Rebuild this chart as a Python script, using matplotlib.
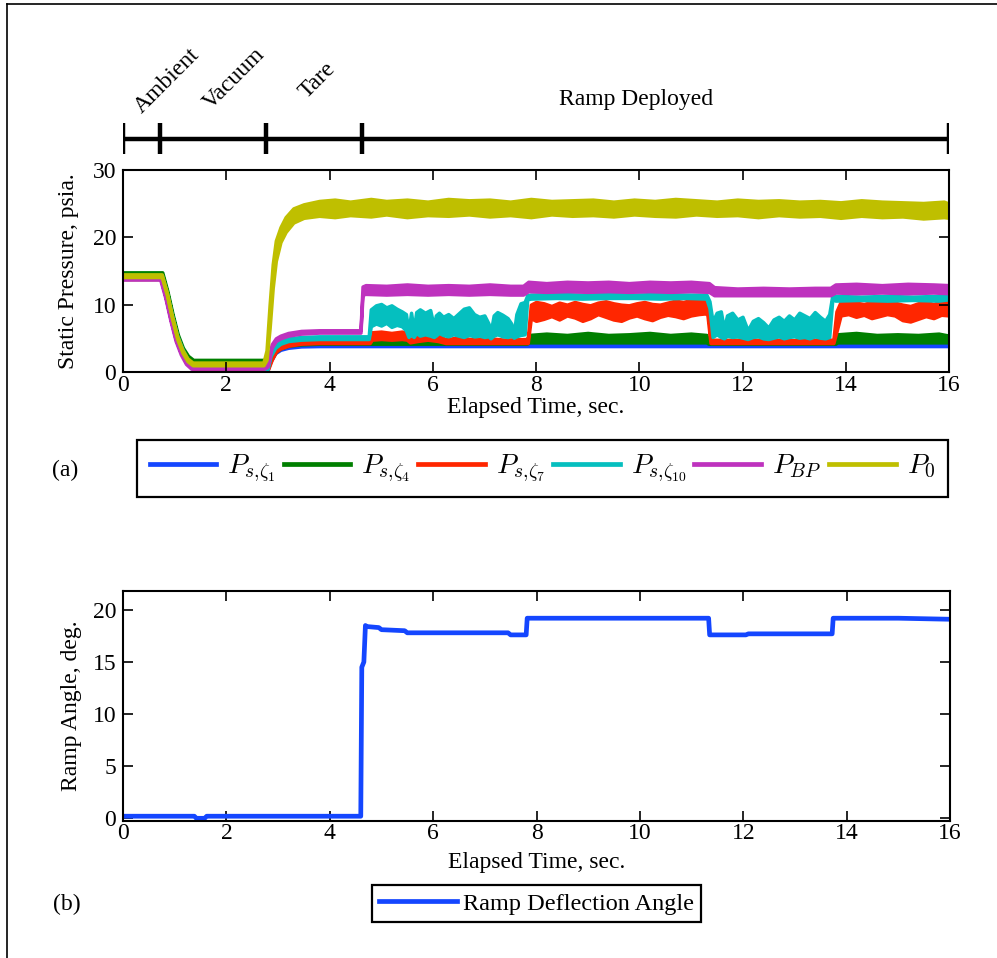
import matplotlib
matplotlib.use('Agg')
import matplotlib.pyplot as plt
from matplotlib.lines import Line2D

plt.rcParams['font.family'] = ['Liberation Serif', 'DejaVu Serif']
plt.rcParams['mathtext.fontset'] = 'cm'

# -----------------
# Data
# -----------------

# test phases along the top
phase_edges = [0, 0.72, 2.77, 4.62, 16]
phase_names = ['Ambient', 'Vacuum', 'Tare', 'Ramp Deployed']

# P_s,zeta1 (blue)
blue_t = [0, 0.74, 0.84, 0.94, 1.04, 1.14, 1.24, 1.34, 2.74, 2.79, 2.86, 2.95, 3.05, 3.2, 3.45, 3.8, 16]
blue_lo = [13.8, 13.8, 11.0, 7.6, 4.6, 2.6, 1.2, 0.5, 0.5, 0.05, 1.6, 2.8, 3.3, 3.6, 3.8, 3.85, 3.85]
blue_hi = [14.1, 14.1, 11.3, 7.9, 4.9, 2.9, 1.5, 0.8, 0.8, 0.3, 1.9, 3.1, 3.6, 3.9, 4.05, 4.1, 4.1]

# P_s,zeta4 (green)
green_t = [0, 0.76, 0.86, 0.96, 1.06, 1.16, 1.26, 1.36, 2.74, 2.8, 2.88, 2.96, 3.05, 3.2, 3.45, 3.8,
           4.7, 5.2, 5.8, 6.5, 7.2, 7.82,
           7.86, 8.2, 8.6, 9.0, 9.4, 9.8, 10.2, 10.6, 11.0, 11.3,
           11.34, 12.0, 12.8, 13.5, 13.8,
           13.84, 14.2, 14.6, 15.0, 15.4, 15.8, 16]
green_lo = [14.4, 14.4, 11.6, 8.2, 5.2, 3.2, 2.0, 1.4, 1.4, 0.8, 2.0, 3.0, 3.5, 3.9, 4.1, 4.2,
            4.2, 4.2, 4.2, 4.2, 4.2, 4.2,
            4.4, 4.4, 4.4, 4.4, 4.4, 4.4, 4.4, 4.4, 4.4, 4.4,
            4.2, 4.2, 4.2, 4.2, 4.2,
            4.4, 4.4, 4.4, 4.4, 4.4, 4.4, 4.4]
green_hi = [14.8, 14.8, 12.0, 8.6, 5.6, 3.6, 2.4, 1.8, 1.8, 1.2, 2.5, 3.5, 4.0, 4.4, 4.6, 4.65,
            4.8, 4.9, 4.7, 4.9, 4.7, 4.8,
            5.5, 5.7, 5.5, 5.8, 5.5, 5.6, 5.8, 5.5, 5.7, 5.5,
            4.7, 4.8, 4.7, 4.8, 4.7,
            5.6, 5.8, 5.5, 5.6, 5.5, 5.7, 5.4]

# P_s,zeta7 (red)
red_t = [0, 0.75, 0.85, 0.95, 1.05, 1.15, 1.25, 1.35, 2.74, 2.8, 2.88, 2.96, 3.05, 3.2, 3.45, 3.8,
         4.78, 4.82, 5.0, 5.2, 5.4, 5.5, 5.56, 5.7, 5.9, 6.1, 6.25, 6.5, 6.8, 7.1, 7.4, 7.84,
         7.9, 8.0, 8.15, 8.3, 8.45, 8.6, 8.75, 8.9, 9.05, 9.2, 9.35, 9.5, 9.65, 9.8, 9.95,
         10.1, 10.25, 10.4, 10.55, 10.7, 10.85, 11.0, 11.15, 11.28,
         11.32, 11.38, 12.0, 12.6, 13.1, 13.16, 13.22, 13.76,
         13.82, 13.9, 14.05, 14.2, 14.35, 14.5, 14.65, 14.8, 14.95, 15.1, 15.25, 15.4, 15.55, 15.7, 15.85, 16]
red_lo = [13.8, 13.8, 11.2, 7.8, 4.8, 2.8, 1.3, 0.5, 0.5, 0.2, 1.8, 3.0, 3.5, 3.9, 4.2, 4.3,
          4.3, 4.8, 4.9, 4.8, 4.9, 4.8, 4.4, 4.6, 4.8, 4.6, 4.3, 4.3, 4.3, 4.3, 4.3, 4.3,
          8.0, 7.6, 7.9, 8.3, 7.8, 8.4, 8.1, 7.6, 8.0, 8.6, 8.2, 7.8, 7.6, 8.1, 8.4,
          8.0, 7.7, 8.2, 8.5, 8.3, 8.0, 8.4, 8.6, 8.7,
          8.5, 4.3, 4.3, 4.3, 4.3, 4.3, 4.3, 4.3,
          6.0, 8.4, 8.6, 8.2, 8.5, 8.0, 8.3, 8.6, 8.4, 7.7, 7.5, 7.9, 8.3, 8.0, 8.5, 8.4]
red_hi = [14.2, 14.2, 11.6, 8.2, 5.2, 3.2, 1.7, 0.9, 0.9, 0.6, 2.2, 3.4, 3.9, 4.3, 4.6, 4.7,
          4.7, 5.9, 6.0, 5.8, 6.0, 5.9, 4.8, 5.6, 5.9, 5.7, 4.8, 5.2, 4.8, 5.0, 4.8, 4.9,
          10.0, 10.4, 10.2, 9.8, 10.3, 10.0, 10.4, 10.1, 9.9, 10.3, 10.5, 10.2, 10.0, 9.9, 10.2,
          10.4, 10.1, 10.0, 10.3, 10.6, 10.4, 10.7, 10.8, 10.7,
          10.5, 4.8, 4.7, 4.8, 4.7, 5.8, 4.7, 4.8,
          9.0, 10.4, 10.6, 10.3, 10.1, 10.4, 10.5, 10.2, 10.3, 10.0, 9.8, 10.2, 10.4, 10.1, 10.5, 10.4]

# P_s,zeta10 (cyan)
cyan_t = [0, 0.75, 0.85, 0.95, 1.05, 1.15, 1.25, 1.35, 2.74, 2.79, 2.86, 2.95, 3.05, 3.2, 3.45, 3.8, 4.7,
          4.76, 4.8, 4.9, 5.0, 5.1, 5.2, 5.3, 5.4, 5.48, 5.53, 5.58, 5.63, 5.68, 5.75, 5.85, 5.95,
          6.02, 6.06, 6.12, 6.2, 6.3, 6.4, 6.5, 6.6, 6.7, 6.8, 6.9, 7.0, 7.08, 7.12, 7.18, 7.25,
          7.35, 7.45, 7.52, 7.57, 7.62, 7.7, 7.78, 7.83,
          7.9, 8.4, 8.9, 9.4, 9.9, 10.4, 10.9, 11.3,
          11.36, 11.42, 11.5, 11.58, 11.64, 11.7, 11.8, 11.9, 12.0, 12.1, 12.2, 12.3, 12.4, 12.5,
          12.6, 12.7, 12.8, 12.9, 13.0, 13.1, 13.2, 13.3, 13.4, 13.5, 13.6, 13.68, 13.74,
          13.8, 14.3, 14.8, 15.3, 15.8, 16]
cyan_lo = [14.0, 14.0, 11.4, 8.0, 5.0, 3.0, 1.5, 0.7, 0.7, 0.1, 2.4, 3.6, 4.2, 4.6, 4.8, 4.9, 4.9,
           4.9, 6.8, 7.2, 6.9, 7.3, 6.7, 7.0, 6.8, 6.2, 5.2, 5.6, 5.2, 5.8, 5.4, 5.6, 5.4,
           5.2, 5.4, 5.8, 5.5, 5.3, 5.6, 5.4, 5.2, 5.5, 5.3, 5.4, 5.2, 5.3, 5.0, 5.4, 5.6,
           5.3, 5.2, 5.4, 5.1, 5.3, 5.5, 5.6, 10.8,
           10.9, 11.0, 10.9, 11.0, 11.0, 10.9, 11.0, 10.9,
           9.5, 5.2, 5.6, 5.2, 5.0, 5.4, 5.2, 5.3, 5.1, 4.9, 5.2, 5.3, 5.0, 4.9,
           5.1, 5.3, 5.0, 5.2, 5.3, 5.1, 5.2, 5.0, 5.3, 5.1, 5.0, 5.2, 10.8,
           10.6, 10.7, 10.6, 10.7, 10.6, 10.8]
cyan_hi = [14.4, 14.4, 11.8, 8.4, 5.4, 3.4, 1.9, 1.1, 1.1, 0.5, 2.8, 4.0, 4.6, 5.0, 5.2, 5.3, 5.3,
           5.3, 9.3, 9.9, 10.1, 9.6, 9.9, 9.4, 9.0, 8.6, 6.0, 8.8, 6.2, 8.9, 9.3, 8.8, 9.2,
           6.8, 8.4, 8.8, 8.2, 8.6, 8.0, 8.7, 9.4, 9.6, 8.6, 8.2, 8.4, 7.2, 5.8, 8.4, 8.9,
           8.5, 8.0, 7.2, 5.8, 8.6, 10.2, 10.4, 11.4,
           11.5, 11.6, 11.5, 11.6, 11.5, 11.6, 11.5, 11.5,
           10.5, 7.5, 8.8, 9.0, 6.4, 8.4, 8.8, 7.8, 8.2, 6.2, 7.6, 8.0, 7.4, 6.6,
           7.8, 8.2, 7.6, 8.4, 7.8, 8.8, 8.4, 8.0, 8.9, 8.2, 7.6, 8.6, 11.4,
           11.3, 11.2, 11.3, 11.2, 11.3, 11.4]

# P_BP (magenta)
mag_t = [0, 0.72, 0.82, 0.92, 1.02, 1.12, 1.22, 1.32, 2.74, 2.8, 2.88, 2.96, 3.05, 3.2, 3.45, 3.8, 4.6,
         4.64, 4.7, 5.1, 5.5, 5.9, 6.3, 6.7, 7.1, 7.5, 7.75,
         7.85, 8.2, 8.6, 9.0, 9.4, 9.8, 10.2, 10.6, 11.0, 11.35,
         11.45, 11.9, 12.4, 12.9, 13.4, 13.7,
         13.8, 14.2, 14.7, 15.2, 15.7, 16]
mag_lo = [13.75, 13.75, 11.0, 7.6, 4.6, 2.6, 1.2, 0.5, 0.5, 0.8, 3.6, 4.6, 5.0, 5.4, 5.7, 5.85, 5.85,
          11.5, 11.6, 11.5, 11.6, 11.5, 11.6, 11.5, 11.6, 11.5, 11.5,
          12.0, 11.9, 12.0, 11.9, 12.0, 11.9, 12.0, 11.9, 12.0, 11.9,
          11.4, 11.4, 11.4, 11.4, 11.4, 11.4,
          11.8, 11.7, 11.8, 11.7, 11.8, 11.7]
mag_hi = [14.05, 14.05, 11.3, 7.9, 4.9, 2.9, 1.5, 0.8, 0.8, 1.2, 4.1, 5.0, 5.4, 5.8, 6.1, 6.2, 6.2,
          12.7, 12.9, 12.8, 13.0, 12.8, 12.9, 12.8, 13.0, 12.8, 12.8,
          13.4, 13.2, 13.4, 13.3, 13.4, 13.2, 13.4, 13.3, 13.4, 13.2,
          12.6, 12.4, 12.5, 12.4, 12.5, 12.5,
          13.0, 13.1, 12.9, 13.1, 13.0, 12.9]

# P_0 (olive)
olive_t = [0, 0.75, 0.85, 0.95, 1.05, 1.15, 1.25, 1.35, 2.72, 2.78, 2.84, 2.90, 2.96, 3.05, 3.15, 3.3,
           3.5, 3.8, 4.1, 4.4, 4.8, 5.1, 5.5, 5.9, 6.3, 6.7, 7.1, 7.5, 7.9, 8.3, 8.7, 9.1, 9.5,
           9.9, 10.3, 10.7, 11.1, 11.5, 11.9, 12.3, 12.7, 13.1, 13.5, 13.9, 14.3, 14.7, 15.1,
           15.5, 15.9, 16]
olive_lo = [14.1, 14.1, 11.4, 7.9, 4.9, 2.9, 1.6, 1.0, 1.0, 1.8, 6.5, 12.5, 16.5, 19.3, 20.8, 22.2,
            22.9, 23.2, 23.0, 23.3, 23.1, 23.4, 23.0, 23.3, 23.2, 23.4, 23.1, 23.3, 23.0, 23.4, 23.2, 23.3, 23.1,
            23.4, 23.2, 23.1, 23.4, 23.2, 23.3, 23.0, 23.3, 23.1, 23.2, 22.9, 23.2, 23.0, 23.1,
            22.8, 23.0, 22.9]
olive_hi = [14.5, 14.5, 11.8, 8.3, 5.3, 3.3, 2.0, 1.4, 1.4, 3.2, 10.0, 16.0, 19.5, 21.5, 23.0, 24.3,
            24.9, 25.4, 25.6, 25.3, 25.7, 25.4, 25.6, 25.3, 25.7, 25.5, 25.6, 25.3, 25.7, 25.4, 25.5, 25.6, 25.3,
            25.6, 25.4, 25.7, 25.5, 25.3, 25.6, 25.4, 25.5, 25.3, 25.4, 25.2, 25.5, 25.3, 25.2,
            25.1, 25.3, 25.0]

series_names = [r'$P_{s{,}\zeta_1}$', r'$P_{s{,}\zeta_4}$', r'$P_{s{,}\zeta_7}$',
                r'$P_{s{,}\zeta_{10}}$', r'$P_{BP}$', r'$P_0$']
series_colors = ['#1446FF', '#007F00', '#FF2600', '#05BFBF', '#BE32BE', '#BFBF00']
series_data = [(blue_t, blue_lo, blue_hi), (green_t, green_lo, green_hi), (red_t, red_lo, red_hi),
               (cyan_t, cyan_lo, cyan_hi), (mag_t, mag_lo, mag_hi), (olive_t, olive_lo, olive_hi)]

# ramp deflection angle
ramp_t = [0, 1.38, 1.42, 1.58, 1.62, 4.6, 4.62, 4.66, 4.69, 4.72, 4.95, 5.0, 5.45, 5.5, 7.45, 7.5,
          7.8, 7.82, 9.0, 11.33, 11.35, 12.05, 12.1, 13.72, 13.74, 15.0, 16]
ramp_a = [0.2, 0.2, 0.0, 0.0, 0.2, 0.2, 14.5, 15.0, 18.5, 18.4, 18.3, 18.1, 18.0, 17.8, 17.8, 17.6,
          17.6, 19.2, 19.2, 19.2, 17.6, 17.6, 17.7, 17.7, 19.2, 19.2, 19.1]

# -----------------
# Figure
# -----------------

FS = 17
fig = plt.figure(figsize=(9.97, 9.58), dpi=100)

# page border lines (left and top)
fig.add_artist(Line2D([7 / 997, 7 / 997], [0, 1 - 4 / 958], transform=fig.transFigure, color='black', lw=1.2))
fig.add_artist(Line2D([7 / 997, 1], [1 - 4 / 958, 1 - 4 / 958], transform=fig.transFigure, color='black', lw=1.2))

# timeline of phases
ax_tl = fig.add_axes([123 / 997, 1 - 160 / 958, 826 / 997, 130 / 958])
ax_tl.set_xlim(0, 16)
ax_tl.set_ylim(0, 130)
ax_tl.axis('off')
ax_tl.hlines(21, phase_edges[0], phase_edges[-1], color='black', lw=3.2)
ax_tl.vlines(phase_edges, 6, 37, color='black', lw=3.2)
ax_tl.text(0.85, 79, phase_names[0], rotation=45, ha='center', va='center', fontsize=FS)
ax_tl.text(2.15, 81, phase_names[1], rotation=45, ha='center', va='center', fontsize=FS)
ax_tl.text(3.76, 80, phase_names[2], rotation=45, ha='center', va='center', fontsize=FS)
ax_tl.text(9.94, 60, phase_names[3], ha='center', va='center', fontsize=FS)

# (a) static pressures
ax1 = fig.add_axes([123 / 997, 1 - 372 / 958, 826 / 997, 202 / 958])
handles = []
for (t, lo, hi), c, name in zip(series_data, series_colors, series_names):
    ax1.fill_between(t, lo, hi, facecolor=c, edgecolor=c, linewidth=2.5, joinstyle='round')
    handles.append(Line2D([], [], color=c, lw=3.4, label=name))
ax1.set_xlim(0, 16)
ax1.set_ylim(0, 30)
ax1.set_xticks(range(0, 17, 2))
ax1.set_yticks([0, 10, 20, 30])
ax1.set_xlabel('Elapsed Time, sec.', fontsize=FS)
ax1.set_ylabel('Static Pressure, psia.', fontsize=FS)
ax1.xaxis.set_label_coords(0.5, -0.122)
ax1.yaxis.set_label_coords(-0.053, 0.5)

leg1 = fig.legend(handles=handles, loc='lower left', ncol=6, mode='expand',
                  bbox_to_anchor=(137 / 997, 1 - 497 / 958, 811 / 997, 0.05),
                  fontsize=20, handlelength=2.4, handletextpad=0.4, columnspacing=0.5,
                  borderpad=0.45, borderaxespad=0, fancybox=False, framealpha=1, edgecolor='black')
leg1.get_frame().set_linewidth(1.6)
fig.text(65 / 997, 1 - 470 / 958, '(a)', fontsize=FS, ha='center', va='center')

# (b) ramp angle
ax2 = fig.add_axes([123 / 997, 1 - 820.7 / 958, 827 / 997, 230 / 958])
ax2.plot(ramp_t, ramp_a, color=series_colors[0], lw=3.4, label='Ramp Deflection Angle')
ax2.set_xlim(0, 16)
ax2.set_ylim(-0.23, 21.84)
ax2.set_xticks(range(0, 17, 2))
ax2.set_yticks([0, 5, 10, 15, 20])
ax2.set_xlabel('Elapsed Time, sec.', fontsize=FS)
ax2.set_ylabel('Ramp Angle, deg.', fontsize=FS)
ax2.xaxis.set_label_coords(0.5, -0.135)
ax2.yaxis.set_label_coords(-0.049, 0.5)

leg2 = fig.legend(loc='lower left', bbox_to_anchor=(372 / 997, 1 - 922 / 958),
                  handles=ax2.get_lines(), fontsize=17.5, handlelength=3.2, handletextpad=0.25,
                  borderpad=0.3, borderaxespad=0, fancybox=False, framealpha=1, edgecolor='black')
leg2.get_frame().set_linewidth(1.6)
fig.text(67 / 997, 1 - 904 / 958, '(b)', fontsize=FS, ha='center', va='center')

for ax in (ax1, ax2):
    ax.tick_params(direction='in', top=True, right=True, length=7, width=1.2, labelsize=FS, pad=5)
    ax.tick_params(axis='x', pad=2)
    for s in ax.spines.values():
        s.set_linewidth(1.5)

fig.savefig('out.png', dpi=100)
